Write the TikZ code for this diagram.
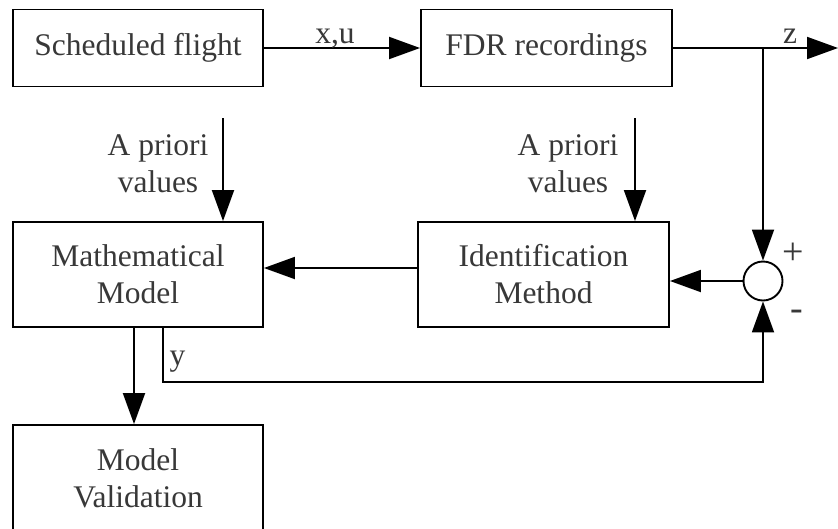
\documentclass[tikz,border=0pt]{standalone}
\usepackage{fontspec}
\setmainfont{Liberation Serif}
\usetikzlibrary{arrows.meta}
\begin{document}
\begin{tikzpicture}[x=1pt,y=-1pt,
  every node/.style={font=\fontsize{31.5}{37}\selectfont, text=black!78},
  blk/.style={draw=black, line width=1.9pt, align=center, inner sep=0pt},
  arr/.style={line width=1.9pt, -{Triangle[length=31pt,width=22pt]}},
  ln/.style={line width=1.9pt},
  sign/.style={font=\fontsize{38}{40}\selectfont}]
\clip (0,0) rectangle (838,528);
\fill[white] (0,0) rectangle (838,528);
% blocks
\node[blk, minimum width=250pt, minimum height=77pt] (sf) at (138,48) {Scheduled flight};
\node[blk, minimum width=251pt, minimum height=77pt] (fdr) at (546.5,48) {FDR recordings};
\node[blk, minimum width=250pt, minimum height=105pt] (mm) at (138,274.5) {Mathematical\\Model};
\node[blk, minimum width=251pt, minimum height=105pt] (im) at (543.5,274.5) {Identification\\Method};
\node[blk, minimum width=250pt, minimum height=106pt] (mv) at (138,478) {Model\\Validation};
\node[draw=black, circle, ln, minimum size=39pt, inner sep=0pt] (sum) at (763,281) {};
% top signal path
\draw[arr] (sf.east) -- (fdr.west);
\node[anchor=base] (lxu) at (335,43) {x,u};
\coordinate (zend) at (838,48);
\coordinate (br) at (763,48);
\draw[arr] (fdr.east) -- (zend);
\node[anchor=base] (lz) at (790,43) {z};
\draw[arr] (br) -- (sum.north);
% feedback
\draw[arr] (sum.west) -- (sum.west -| im.east);
\draw[arr] ([yshift=6.5pt]im.west) -- ([yshift=6.5pt]im.west -| mm.east);
% a priori inputs
\coordinate (ap1) at (223,118);
\coordinate (ap2) at (635,118);
\draw[arr] (ap1) -- (ap1 |- mm.north);
\draw[arr] (ap2) -- (ap2 |- im.north);
\node[align=center] (apl1) at (158,164) {A priori\\values};
\node[align=center] (apl2) at (568,164) {A priori\\values};
% model output
\coordinate (dmx) at (134,0);
\draw[arr] (mm.south -| dmx) -- (mv.north -| dmx);
\coordinate (yx) at (163,382);
\draw[arr] (mm.south -| yx) -- (yx) -- (yx -| sum) -- (sum.south);
\node[anchor=base west] (ly) at (166,365) {y};
\node[sign] (lp) at (793,254) {+};
\node[sign] (lm) at (797,315) {-};
\end{tikzpicture}
\end{document}
